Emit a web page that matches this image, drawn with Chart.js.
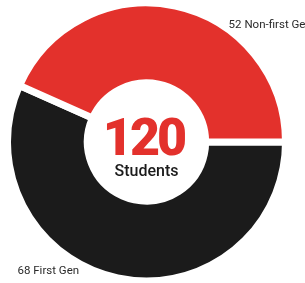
<!DOCTYPE html>
<html>
<head>
<meta charset="utf-8">
<script src="https://cdn.jsdelivr.net/npm/chart.js@4"></script>
<style>
  html, body { margin: 0; padding: 0; background: #fff; }
  #wrap { width: 305px; height: 283px; position: relative; }
</style>
</head>
<body>
<div id="wrap"><canvas id="studentsChart"></canvas></div>
<script>
// data
const groups = ['First Gen', 'Non-first Gen'];
const counts = [68, 52];
const colors = ['#1b1b1b', '#e3312c'];
const totalLabel = 'Students';

// center text + outside labels
const labelPlugin = {
    id: 'studentLabels',
    afterDraw(chart) {
        const ctx = chart.ctx;
        const arc = chart.getDatasetMeta(0).data[0];
        const cx = arc.x, cy = arc.y;
        const r = arc.outerRadius;
        const total = counts.reduce((a, b) => a + b, 0);

        ctx.save();
        ctx.textAlign = 'center';
        ctx.textBaseline = 'alphabetic';
        ctx.fillStyle = colors[1];
        ctx.font = '900 52px Roboto';
        ctx.letterSpacing = '-3px';
        ctx.fillText(String(total), cx - 3, cy + 13);
        ctx.letterSpacing = '0px';
        ctx.fillStyle = '#1b1b1b';
        ctx.font = '500 16px Roboto';
        ctx.fillText(totalLabel, cx, cy + 34);

        // outside labels
        ctx.font = '11.5px Roboto';
        ctx.fillStyle = '#2a2a2a';
        ctx.textBaseline = 'middle';
        let a = -55 * Math.PI / 180;
        ctx.textAlign = 'left';
        ctx.fillText(counts[1] + ' ' + groups[1], cx + Math.cos(a) * r * 1.03, cy + Math.sin(a) * r * 1.03);
        a = 117.5 * Math.PI / 180;
        ctx.textAlign = 'right';
        ctx.fillText(counts[0] + ' ' + groups[0], cx + Math.cos(a) * r * 1.05, cy + Math.sin(a) * r * 1.05);
        ctx.restore();
    }
};

const ctx = document.getElementById('studentsChart').getContext('2d');
const chart = new Chart(ctx, {
    type: 'doughnut',
    data: {
        labels: groups,
        datasets: [{
            data: counts,
            backgroundColor: colors,
            borderColor: '#ffffff',
            borderWidth: 7,
            borderAlign: 'center'
        }]
    },
    options: {
        responsive: true,
        maintainAspectRatio: false,
        animation: false,
        events: [],
        rotation: 90,
        radius: 139,
        cutout: 58.5,
        layout: { padding: { left: 0, right: 12, top: 1, bottom: 0 } },
        plugins: {
            legend: { display: false },
            tooltip: { enabled: false }
        }
    },
    plugins: [labelPlugin]
});
</script>
</body>
</html>
